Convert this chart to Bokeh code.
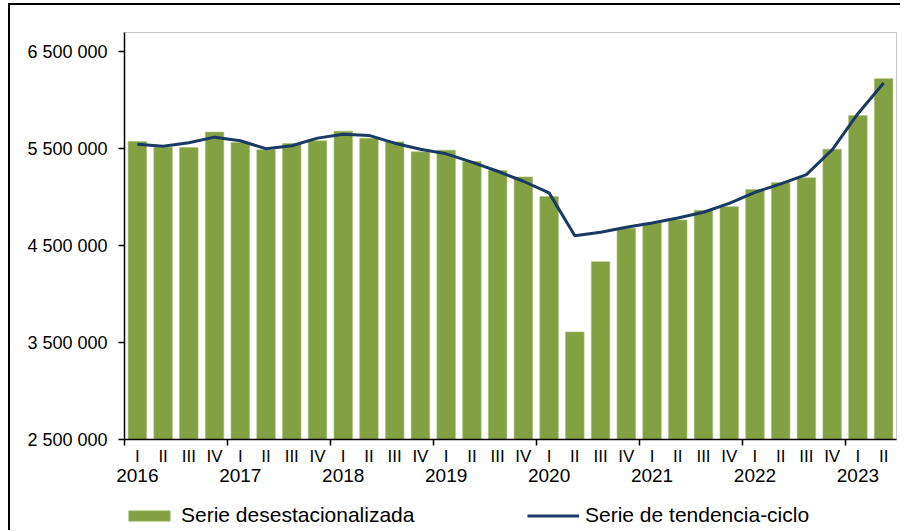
from bokeh.plotting import figure
from bokeh.layouts import column
from bokeh.models import (Range1d, FixedTicker, LinearAxis, Legend, LegendItem,
                          ColumnDataSource)
from bokeh.embed import file_html
from bokeh.resources import INLINE

# ---- data ----
years = ["2016", "2017", "2018", "2019", "2020", "2021", "2022", "2023"]
quarters = ["I", "II", "III", "IV"] * 7 + ["I", "II"]
desestacionalizada = [
    5575000, 5517000, 5513000, 5672000,
    5565000, 5490000, 5555000, 5583000,
    5682000, 5610000, 5572000, 5469000,
    5486000, 5369000, 5276000, 5210000,
    5007000, 3610000, 4335000, 4679000,
    4735000, 4766000, 4865000, 4903000,
    5079000, 5151000, 5200000, 5496000,
    5844000, 6224000,
]
tendencia = [
    5548000, 5527000, 5562000, 5620000,
    5583000, 5500000, 5531000, 5610000,
    5651000, 5638000, 5558000, 5496000,
    5448000, 5362000, 5268000, 5165000,
    5045000, 4603000, 4638000, 4690000,
    4735000, 4786000, 4845000, 4937000,
    5051000, 5138000, 5234000, 5490000,
    5862000, 6178000,
]
y_ticks = [2500000, 3500000, 4500000, 5500000, 6500000]
y_tick_labels = ["2 500 000", "3 500 000", "4 500 000", "5 500 000", "6 500 000"]
series_names = ["Serie desestacionalizada", "Serie de tendencia-ciclo"]

FONT = "Liberation Sans"
GREEN = "#83A043"
NAVY = "#1B3A63"

n = len(quarters)
xs = [i + 0.5 for i in range(n)]
src = ColumnDataSource(dict(x=xs, top=desestacionalizada, trend=tendencia))

p = figure(width=900, height=494, output_backend="svg", toolbar_location=None,
           x_range=Range1d(0, n), y_range=Range1d(2500000, 6700000),
           min_border_left=124, min_border_right=4, min_border_top=32,
           min_border_bottom=55)
p.border_fill_alpha = 0
p.outline_line_color = "#c8c8c8"
p.outline_line_width = 1
p.grid.visible = False

bar_style = dict(fill_color=GREEN, line_color="#a9bf7a", line_width=0.6)
line_style = dict(line_color=NAVY, line_width=3)

bars = p.vbar(x="x", top="top", bottom=2500000, width=0.72, source=src, **bar_style)
line = p.line(x="x", y="trend", source=src, **line_style)

# y axis
ya = p.yaxis[0]
ya.ticker = FixedTicker(ticks=y_ticks, minor_ticks=[])
ya.major_label_overrides = {t: l for t, l in zip(y_ticks, y_tick_labels)}
ya.major_tick_out = 6
ya.major_tick_in = 0
ya.major_tick_line_color = "black"
ya.major_tick_line_width = 1.5
ya.axis_line_color = "black"
ya.axis_line_width = 1.5
ya.major_label_standoff = 11
ya.major_label_text_font = FONT
ya.major_label_text_font_size = "18px"
ya.major_label_text_color = "black"

# x axis: quarter labels, year-boundary ticks
xa = p.xaxis[0]
xa.ticker = FixedTicker(ticks=xs, minor_ticks=[i for i in range(0, n, 4)])
xa.major_label_overrides = {x: q for x, q in zip(xs, quarters)}
xa.major_tick_line_color = None
xa.major_tick_out = 0
xa.major_tick_in = 0
xa.minor_tick_out = 6
xa.minor_tick_in = 0
xa.minor_tick_line_color = "black"
xa.minor_tick_line_width = 1.5
xa.axis_line_color = "black"
xa.axis_line_width = 1.5
xa.major_label_standoff = 1
xa.major_label_text_font = FONT
xa.major_label_text_font_size = "17px"
xa.major_label_text_color = "black"

# year labels axis
year_pos = [xs[i] for i in range(0, n, 4)]
ya2 = LinearAxis(ticker=FixedTicker(ticks=year_pos, minor_ticks=[]),
                 major_label_overrides={x: y for x, y in zip(year_pos, years)},
                 axis_line_color=None, major_tick_line_color=None,
                 minor_tick_line_color=None, major_tick_out=0, major_tick_in=0,
                 major_label_standoff=0, major_label_text_font=FONT,
                 major_label_text_font_size="19px", major_label_text_color="black")
p.add_layout(ya2, "below")

# legend strip (frame is aligned with the main chart's frame by the column)
lg = figure(width=900, height=36, output_backend="svg", toolbar_location=None,
            x_axis_type=None, y_axis_type=None, x_range=Range1d(0, 1),
            y_range=Range1d(0, 1), min_border=0)
lg.outline_line_color = None
lg.border_fill_alpha = 0
lg.background_fill_alpha = 0
lg.grid.visible = False
lb = lg.vbar(x="x", top="top", width=0.72, source=src, visible=False, **bar_style)
ll = lg.line(x="x", y="trend", source=src, visible=False, **line_style)

common = dict(orientation="horizontal", padding=0, margin=0, border_line_color=None,
              background_fill_alpha=0, glyph_width=52, glyph_height=13,
              label_standoff=6, label_text_font=FONT, label_text_font_size="21px",
              label_text_color="black", inactive_fill_alpha=0)
lg.add_layout(Legend(items=[LegendItem(label=series_names[0], renderers=[lb])],
                     location=(-1, 3), **common))
lg.add_layout(Legend(items=[LegendItem(label=series_names[1], renderers=[ll])],
                     location=(403, 3), **common))

layout = column(p, lg, spacing=0)
layout.styles = {
    "background": "linear-gradient(black, black) 8px 3px / 2px 100% no-repeat, "
                  "linear-gradient(black, black) 8px 3px / 100% 2px no-repeat",
}

open("out.html", "w").write(file_html(layout, INLINE))
